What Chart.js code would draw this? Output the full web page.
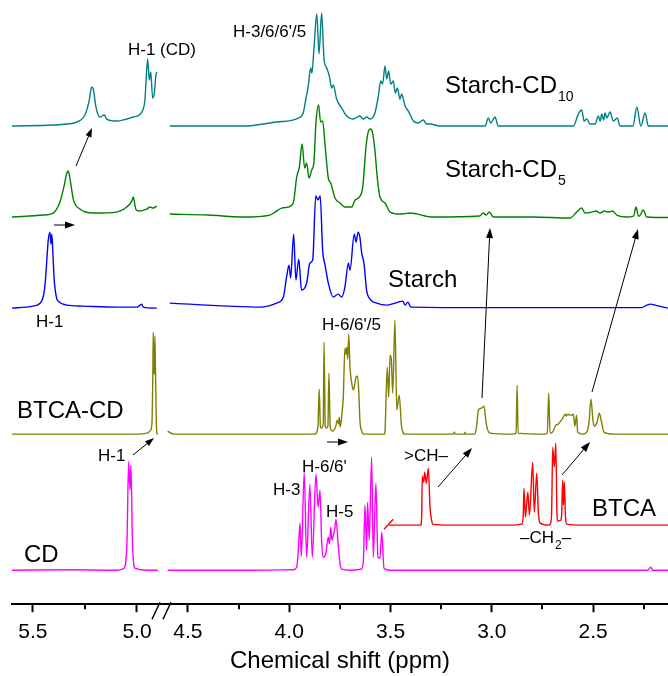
<!DOCTYPE html>
<html>
<head>
<meta charset="utf-8">
<script src="https://cdn.jsdelivr.net/npm/chart.js@4.4.1/dist/chart.umd.min.js"></script>
<style>
  html, body { margin: 0; padding: 0; background: #fff; }
  canvas { display: block; }
</style>
</head>
<body>
<canvas id="nmr" width="668" height="676"></canvas>
<script>
// [ppm, intensity above the trace's own baseline]
const cdLeft = [[5.60,0],[5.30,0.5],[5.10,0],[5.062,2],[5.048,30],[5.040,109],[5.034,80],[5.029,105],[5.022,30],[5.010,2],[4.95,0],[4.90,0]]
const cdRight = [[4.60,0],[4.20,0],[3.98,0.5],[3.963,3],[3.955,20],[3.947,47],[3.940,14],[3.926,98],[3.914,13],[3.898,86],[3.886,13],[3.868,96],[3.857,63],[3.848,80],[3.840,30],[3.832,13],[3.820,16],[3.807,33],[3.801,26],[3.795,43],[3.789,30],[3.782,35],[3.776,40],[3.769,51],[3.758,25],[3.748,5],[3.741,1],[3.70,0],[3.645,1],[3.634,8],[3.626,65],[3.618,20],[3.613,68],[3.605,30],[3.593,113],[3.585,13],[3.572,87],[3.562,13],[3.552,12],[3.543,38],[3.532,2],[3.50,0],[3.0,0],[2.23,0],[2.215,3],[2.205,0],[2.13,0]]

const btcaRight = [[3.507,0],[3.40,0],[3.351,0],[3.346,10],[3.343,49],[3.336,43],[3.331,53],[3.323,42],[3.313,57],[3.305,18],[3.296,4],[3.292,1],[3.20,0],[2.90,0],[2.852,1],[2.845,8],[2.841,37],[2.834,8],[2.822,33],[2.814,10],[2.798,63],[2.790,13],[2.778,52],[2.770,13],[2.761,2],[2.72,0],[2.712,1],[2.705,10],[2.699,78],[2.691,58],[2.684,82],[2.678,10],[2.674,4],[2.660,5],[2.655,10],[2.650,45],[2.646,20],[2.642,43],[2.636,8],[2.630,1],[2.55,0],[2.13,0]]
const btcaMark = [[3.532,-4],[3.487,6]]

const btcaCdLeft = [[5.60,0],[5.0,0],[4.951,1],[4.935,4],[4.928,12],[4.924,60],[4.922,102],[4.920,70],[4.917,60],[4.914,98],[4.911,60],[4.907,10],[4.902,0],[4.90,0]]
const btcaCdRight = [[4.60,3],[4.57,0],[4.0,0],[3.873,0],[3.858,8],[3.852,45],[3.846,8],[3.842,6],[3.832,10],[3.828,92],[3.822,8],[3.817,6],[3.809,8],[3.804,61],[3.798,8],[3.795,5],[3.784,3],[3.770,8],[3.763,14],[3.756,10],[3.753,17],[3.748,7],[3.740,20],[3.733,37],[3.725,86],[3.720,80],[3.716,87],[3.711,75],[3.706,100],[3.700,67],[3.692,52],[3.684,44],[3.676,50],[3.670,57],[3.662,58],[3.656,40],[3.651,14],[3.642,3],[3.634,0],[3.53,0],[3.527,3],[3.516,67],[3.509,37],[3.502,79],[3.496,75],[3.489,41],[3.478,114],[3.469,24],[3.457,39],[3.445,7],[3.428,0],[3.19,0],[3.185,2],[3.18,0],[3.135,0],[3.132,2],[3.128,0],[3.083,0],[3.075,8],[3.066,24],[3.050,26],[3.038,28],[3.030,15],[3.025,8],[3.009,1],[2.90,0],[2.880,1],[2.875,49],[2.870,1],[2.74,0],[2.726,1],[2.719,41],[2.712,1],[2.700,2],[2.683,9],[2.672,10],[2.660,13],[2.650,16],[2.638,20],[2.632,18],[2.625,20],[2.615,19],[2.605,19],[2.597,20],[2.590,8],[2.581,19],[2.576,2],[2.550,0],[2.531,2],[2.520,12],[2.510,35],[2.501,15],[2.495,8],[2.480,12],[2.469,21],[2.460,14],[2.446,2],[2.40,0],[2.13,0]]

const starchLeft = [[5.60,-2],[5.499,0],[5.458,5],[5.442,20],[5.430,55],[5.426,66],[5.418,74],[5.413,62],[5.409,72],[5.403,50],[5.398,28],[5.386,8],[5.378,5],[5.338,1],[5.26,0],[5.10,-1],[5.00,-1],[4.985,1],[4.977,2],[4.970,-1],[4.905,-2]]
const starchRight = [[4.59,3],[4.30,0],[4.144,-1],[4.062,3],[4.029,9],[4.013,29],[4.001,41],[3.993,28],[3.978,72],[3.967,26],[3.953,47],[3.939,16],[3.914,23],[3.898,43],[3.884,46],[3.869,110],[3.858,106],[3.847,110],[3.835,56],[3.823,41],[3.807,23],[3.782,9],[3.758,12],[3.741,9],[3.725,19],[3.708,43],[3.700,36],[3.679,72],[3.670,64],[3.660,74],[3.651,69],[3.642,53],[3.631,43],[3.618,16],[3.601,7],[3.568,3],[3.519,1],[3.461,4],[3.440,5],[3.428,1],[3.414,4],[3.40,-1],[3.0,-1.5],[2.26,-1.5],[2.235,1],[2.215,2],[2.195,1],[2.13,-2]]

const cd5Left = [[5.60,-1],[5.45,1],[5.402,3],[5.370,14],[5.350,30],[5.338,42],[5.330,45],[5.319,34],[5.306,17],[5.274,7],[5.210,3],[5.098,4],[5.050,9],[5.025,15],[5.018,19],[5.006,7],[4.994,5],[4.953,7],[4.938,9],[4.922,8],[4.905,10]]
const cd5Right = [[4.59,2],[4.40,1],[4.227,-1],[4.095,1],[4.070,4],[4.037,8],[4.005,9],[3.980,13],[3.963,39],[3.950,49],[3.936,72],[3.924,48],[3.914,53],[3.902,38],[3.889,46],[3.878,54],[3.868,93],[3.855,111],[3.845,94],[3.835,95],[3.823,71],[3.807,38],[3.795,33],[3.774,18],[3.749,13],[3.725,9],[3.692,9],[3.675,16],[3.654,19],[3.637,29],[3.621,69],[3.610,84],[3.598,87],[3.588,83],[3.577,66],[3.565,38],[3.552,19],[3.527,13],[3.502,4],[3.453,2],[3.404,3],[3.290,-1],[3.060,0],[3.042,3],[3.028,1],[3.012,4],[2.992,-1],[2.80,-1],[2.614,-2],[2.581,4],[2.556,8],[2.540,3],[2.506,4],[2.485,5],[2.465,3],[2.445,5],[2.425,4],[2.405,5],[2.383,1],[2.334,-1],[2.300,0],[2.288,9],[2.276,0],[2.271,0],[2.252,6],[2.235,-1],[2.136,-1.5],[2.13,-1.5]]

const cd10Left = [[5.60,0],[5.40,1],[5.338,2],[5.290,4],[5.250,11],[5.229,26],[5.218,39],[5.210,37],[5.197,19],[5.178,9],[5.157,11],[5.146,7],[5.098,5],[5.018,9],[4.977,14],[4.962,26],[4.949,67],[4.941,46],[4.934,54],[4.925,28],[4.917,33],[4.909,51],[4.905,54]]
const cd10Right = [[4.59,0],[4.227,0],[4.062,4],[3.955,8],[3.931,13],[3.917,28],[3.906,40],[3.894,58],[3.888,53],[3.878,77],[3.864,112],[3.853,72],[3.840,113],[3.828,67],[3.815,58],[3.802,50],[3.790,38],[3.782,41],[3.766,27],[3.741,18],[3.716,10],[3.684,7],[3.651,10],[3.634,7],[3.618,9],[3.601,7],[3.577,13],[3.560,30],[3.548,45],[3.539,42],[3.527,60],[3.519,47],[3.509,55],[3.499,42],[3.486,45],[3.476,33],[3.466,38],[3.453,27],[3.445,32],[3.428,20],[3.412,15],[3.395,8],[3.387,5],[3.364,3],[3.338,6],[3.321,2],[3.305,2],[3.256,0],[3.033,0],[3.017,8],[3.005,3],[2.984,9],[2.968,0],[2.597,0],[2.573,12],[2.556,16],[2.544,5],[2.531,7],[2.515,2],[2.490,2],[2.474,10],[2.465,5],[2.457,12],[2.448,6],[2.441,13],[2.432,8],[2.416,14],[2.400,5],[2.380,8],[2.367,0],[2.303,0],[2.284,19],[2.264,0],[2.243,13],[2.227,0],[2.13,0]]

const leftTicks = [5.5, 5.0]
const rightTicks = [4.5, 4.0, 3.5, 3.0, 2.5]
const leftMinor = [5.25]
const rightMinor = [4.25, 3.75, 3.25, 2.75, 2.25]

// vertical stacking of the traces
const offsets = { cd: 34, btca: 79, btcaCd: 170, starch: 298, cd5: 388, cd10: 478 }
const colors = { cd: '#ff00ff', btca: '#ff0000', btcaCd: '#808000', starch: '#0000ff', cd5: '#008000', cd10: '#008080' }

const family = "'Liberation Sans', Arial, sans-serif"
Chart.defaults.font.family = family
Chart.defaults.color = '#000'

function trace(points, key, axis) {
  return {
    type: 'line',
    data: points.map(p => ({ x: p[0], y: p[1] + offsets[key] })),
    xAxisID: axis,
    yAxisID: 'y',
    borderColor: colors[key],
    borderWidth: 1.4,
    pointRadius: 0,
    cubicInterpolationMode: 'monotone',
    fill: false
  }
}

const notes = [
  { text: 'H-1 (CD)', x: 128, y: 55, size: 17 },
  { text: "H-3/6/6'/5", x: 233, y: 37, size: 17 },
  { text: 'Starch-CD', sub: '10', x: 445, y: 93, size: 24 },
  { text: 'Starch-CD', sub: '5', x: 445, y: 177, size: 24 },
  { text: 'Starch', x: 388, y: 287, size: 24 },
  { text: 'H-1', x: 36, y: 327, size: 17 },
  { text: "H-6/6'/5", x: 322, y: 330, size: 17 },
  { text: 'BTCA-CD', x: 17, y: 418, size: 24 },
  { text: 'H-1', x: 98, y: 461, size: 17 },
  { text: "H-6/6'", x: 302, y: 472, size: 17 },
  { text: 'H-3', x: 273, y: 495, size: 17 },
  { text: '>CH\u2013', x: 404, y: 461, size: 17 },
  { text: 'H-5', x: 326, y: 517, size: 17 },
  { text: 'BTCA', x: 592, y: 516, size: 24 },
  { text: '\u2013CH', sub: '2', tail: '\u2013', x: 520, y: 543, size: 17 },
  { text: 'CD', x: 24, y: 562, size: 24 }
]

// x1, y1, x2, y2, head length
const arrows = [
  [76, 166, 92, 128, 9],
  [54, 225, 75, 225, 10],
  [327, 442, 348, 442, 10],
  [133, 455, 154, 438, 9],
  [438, 487, 472, 448, 10],
  [562, 475, 590, 442, 10],
  [482, 398, 490, 228, 10],
  [592, 392, 638, 229, 10]
]

function drawArrow(ctx, x1, y1, x2, y2, head) {
  const a = Math.atan2(y2 - y1, x2 - x1)
  const c = Math.cos(a), s = Math.sin(a)
  ctx.beginPath()
  ctx.moveTo(x1, y1)
  ctx.lineTo(x2 - c * head * 0.7, y2 - s * head * 0.7)
  ctx.stroke()
  const w = head * 0.35
  ctx.beginPath()
  ctx.moveTo(x2, y2)
  ctx.lineTo(x2 - head * c + w * s, y2 - head * s - w * c)
  ctx.lineTo(x2 - head * c - w * s, y2 - head * s + w * c)
  ctx.closePath()
  ctx.fill()
}

const decorations = {
  id: 'decorations',
  afterDraw(chart) {
    const ctx = chart.ctx
    ctx.save()
    ctx.strokeStyle = '#000'
    ctx.fillStyle = '#000'

    // minor ticks
    ctx.lineWidth = 2
    const minor = [[chart.scales.xl, leftMinor], [chart.scales.xr, rightMinor]]
    minor.forEach(([scale, vals]) => {
      vals.forEach(v => {
        const px = Math.round(scale.getPixelForValue(v))
        ctx.beginPath()
        ctx.moveTo(px, scale.top)
        ctx.lineTo(px, scale.top + 5)
        ctx.stroke()
      })
    })

    // axis break
    const bx = chart.scales.xl.right
    const by = chart.scales.xl.top
    ctx.lineWidth = 1.5
    ctx.beginPath()
    ctx.moveTo(bx - 10, by + 15); ctx.lineTo(bx - 2, by - 2)
    ctx.moveTo(bx + 1, by + 15); ctx.lineTo(bx + 9, by - 2)
    ctx.stroke()

    // arrows
    ctx.lineWidth = 1
    arrows.forEach(a => drawArrow(ctx, a[0], a[1], a[2], a[3], a[4]))

    // labels
    ctx.textBaseline = 'alphabetic'
    ctx.textAlign = 'left'
    notes.forEach(n => {
      ctx.font = n.size + 'px ' + family
      ctx.fillText(n.text, n.x, n.y)
      let x = n.x + ctx.measureText(n.text).width
      if (n.sub) {
        const ss = n.size > 20 ? 14 : 12
        ctx.font = ss + 'px ' + family
        ctx.fillText(n.sub, x + 1, n.y + (n.size > 20 ? 8 : 6))
        x += ctx.measureText(n.sub).width + 1
      }
      if (n.tail) {
        ctx.font = n.size + 'px ' + family
        ctx.fillText(n.tail, x, n.y)
      }
    })
    ctx.restore()
  }
}

function xAxis(min, max, weight, ticks) {
  return {
    type: 'linear',
    position: 'bottom',
    stack: 'ppm',
    stackWeight: weight,
    reverse: true,
    min: min,
    max: max,
    afterBuildTicks: s => { s.ticks = ticks.map(v => ({ value: v })) },
    afterFit: s => {
      s.height = 40
      // labels sit well inside each segment, no side padding needed
      s.paddingLeft = 0
      s.paddingRight = 0
    },
    border: { display: true, color: '#000', width: 2 },
    grid: {
      display: true,
      drawOnChartArea: false,
      drawTicks: true,
      tickLength: 8,
      tickWidth: 2,
      tickColor: '#000'
    },
    ticks: {
      autoSkip: false,
      maxRotation: 0,
      padding: 7,
      color: '#000',
      font: { size: 21 },
      callback: v => Number(v).toFixed(1)
    }
  }
}

const datasets = [
  trace(cd10Left, 'cd10', 'xl'), trace(cd10Right, 'cd10', 'xr'),
  trace(cd5Left, 'cd5', 'xl'), trace(cd5Right, 'cd5', 'xr'),
  trace(starchLeft, 'starch', 'xl'), trace(starchRight, 'starch', 'xr'),
  trace(btcaCdLeft, 'btcaCd', 'xl'), trace(btcaCdRight, 'btcaCd', 'xr'),
  trace(btcaRight, 'btca', 'xr'), trace(btcaMark, 'btca', 'xr'),
  trace(cdLeft, 'cd', 'xl'), trace(cdRight, 'cd', 'xr')
]

const ctxNmr = document.getElementById('nmr').getContext('2d')
const chartNmr = new Chart(ctxNmr, {
  type: 'line',
  data: { datasets: datasets },
  options: {
    responsive: false,
    animation: false,
    layout: { padding: { left: 12, right: 0, top: 0, bottom: 0 } },
    plugins: {
      legend: { display: false },
      tooltip: { enabled: false },
      title: {
        display: true,
        text: 'Chemical shift (ppm)',
        position: 'bottom',
        fullSize: false,
        color: '#000',
        font: { size: 24, weight: 'normal' },
        padding: { top: 3, bottom: 0 }
      }
    },
    scales: {
      xl: xAxis(4.88, 5.60, 150, leftTicks),
      xr: xAxis(2.13, 4.628, 506, rightTicks),
      y: { display: false, min: 0, max: 604 }
    }
  },
  plugins: [decorations]
})
</script>
</body>
</html>
